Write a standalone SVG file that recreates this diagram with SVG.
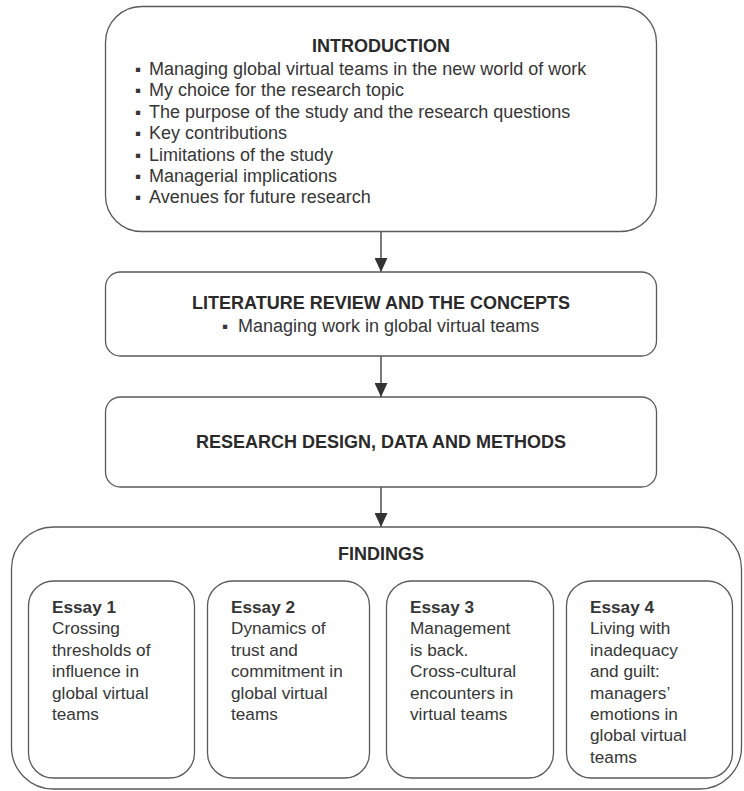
<svg xmlns="http://www.w3.org/2000/svg" width="744" height="791" viewBox="0 0 744 791">
<defs>
<style>
.box{fill:#fff;stroke:#5a5a5a;stroke-width:1.3}
.t{font-family:"Liberation Sans",Arial,sans-serif;fill:#363636}
.h{font-weight:bold;font-size:18px;fill:#2a2a2a}
.b{font-size:18px}
.e{font-size:17.2px}
.eh{font-weight:bold}
.bul{font-size:17px}
.conn{stroke:#333;stroke-width:1.3;fill:none}
</style>
<marker id="ah" viewBox="0 0 14 13" refX="14" refY="6.5" markerWidth="14" markerHeight="13" markerUnits="userSpaceOnUse" orient="auto">
<path d="M0,0 L14,6.5 L0,13 Z" fill="#333"/>
</marker>
</defs>
<rect width="744" height="791" fill="#fff"/>

<g id="connectors">
<line class="conn" x1="381" y1="232" x2="381" y2="272" marker-end="url(#ah)"/>
<line class="conn" x1="381" y1="356" x2="381" y2="397" marker-end="url(#ah)"/>
<line class="conn" x1="381" y1="487" x2="381" y2="527" marker-end="url(#ah)"/>
</g>

<g id="introduction">
<rect class="box" x="105.5" y="6.5" width="551" height="225" rx="36"/>
<text class="t h" x="381" y="52" text-anchor="middle">INTRODUCTION</text>
<g class="t b">
<text y="75"><tspan class="bul" x="135">▪</tspan><tspan x="149">Managing global virtual teams in the new world of work</tspan></text>
<text y="96.4"><tspan class="bul" x="135">▪</tspan><tspan x="149">My choice for the research topic</tspan></text>
<text y="117.8"><tspan class="bul" x="135">▪</tspan><tspan x="149">The purpose of the study and the research questions</tspan></text>
<text y="139.2"><tspan class="bul" x="135">▪</tspan><tspan x="149">Key contributions</tspan></text>
<text y="160.6"><tspan class="bul" x="135">▪</tspan><tspan x="149">Limitations of the study</tspan></text>
<text y="182"><tspan class="bul" x="135">▪</tspan><tspan x="149">Managerial implications</tspan></text>
<text y="203.4"><tspan class="bul" x="135">▪</tspan><tspan x="149">Avenues for future research</tspan></text>
</g>
</g>

<g id="literature">
<rect class="box" x="105.5" y="272" width="551" height="84" rx="15"/>
<text class="t h" x="381" y="309" text-anchor="middle">LITERATURE REVIEW AND THE CONCEPTS</text>
<text class="t b" y="332"><tspan class="bul" x="222">▪</tspan><tspan x="238">Managing work in global virtual teams</tspan></text>
</g>

<g id="research">
<rect class="box" x="105.5" y="397" width="551" height="90" rx="15"/>
<text class="t h" x="381" y="448" text-anchor="middle">RESEARCH DESIGN, DATA AND METHODS</text>
</g>

<g id="findings">
<rect class="box" x="11.5" y="527" width="730" height="262" rx="42"/>
<text class="t h" x="381" y="560" text-anchor="middle">FINDINGS</text>
</g>

<g id="essay1">
<rect class="box" x="28.5" y="581" width="166" height="197" rx="25"/>
<text class="t e"><tspan class="eh" x="52" y="613">Essay 1</tspan><tspan x="52" y="634.4">Crossing</tspan><tspan x="52" y="655.8">thresholds of</tspan><tspan x="52" y="677.2">influence in</tspan><tspan x="52" y="698.6">global virtual</tspan><tspan x="52" y="720">teams</tspan></text>
</g>

<g id="essay2">
<rect class="box" x="207.5" y="581" width="162" height="197" rx="25"/>
<text class="t e"><tspan class="eh" x="231" y="613">Essay 2</tspan><tspan x="231" y="634.4">Dynamics of</tspan><tspan x="231" y="655.8">trust and</tspan><tspan x="231" y="677.2">commitment in</tspan><tspan x="231" y="698.6">global virtual</tspan><tspan x="231" y="720">teams</tspan></text>
</g>

<g id="essay3">
<rect class="box" x="386.5" y="581" width="167" height="197" rx="25"/>
<text class="t e"><tspan class="eh" x="410" y="613">Essay 3</tspan><tspan x="410" y="634.4">Management</tspan><tspan x="410" y="655.8">is back.</tspan><tspan x="410" y="677.2">Cross-cultural</tspan><tspan x="410" y="698.6">encounters in</tspan><tspan x="410" y="720">virtual teams</tspan></text>
</g>

<g id="essay4">
<rect class="box" x="566.5" y="581" width="166" height="197" rx="25"/>
<text class="t e"><tspan class="eh" x="590" y="613">Essay 4</tspan><tspan x="590" y="634.4">Living with</tspan><tspan x="590" y="655.8">inadequacy</tspan><tspan x="590" y="677.2">and guilt:</tspan><tspan x="590" y="698.6">managers’</tspan><tspan x="590" y="720">emotions in</tspan><tspan x="590" y="741.4">global virtual</tspan><tspan x="590" y="762.8">teams</tspan></text>
</g>
</svg>
